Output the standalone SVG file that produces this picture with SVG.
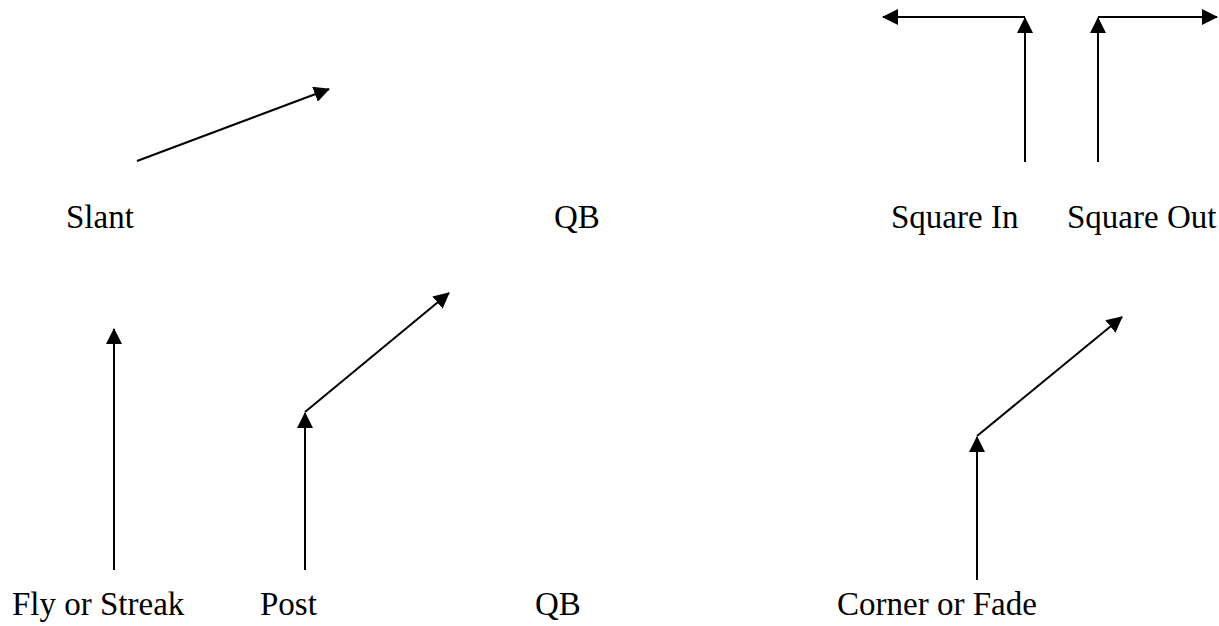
<svg xmlns="http://www.w3.org/2000/svg" width="1219" height="626" viewBox="0 0 1219 626">
<style>
.r{fill:none;stroke:#000;stroke-width:2;marker-end:url(#ah)}
.l{font-family:'Liberation Serif','Times New Roman',serif;font-size:33px;fill:#000}
</style>
<defs>
<marker id="ah" viewBox="0 0 16 16" refX="15" refY="8" markerWidth="16" markerHeight="16" markerUnits="userSpaceOnUse" orient="auto">
<path d="M0,0 L16,8 L0,16 Z" fill="#000"/>
</marker>
</defs>
<rect width="1219" height="626" fill="#fff"/>
<g id="connectors">
<path class="r" d="M137,161 L329,89"/>
<path class="r" d="M1025,162 L1025,18"/>
<path class="r" d="M1025,17 L883,17"/>
<path class="r" d="M1098,162 L1098,18"/>
<path class="r" d="M1098,17 L1217,17"/>
<path class="r" d="M114,570 L114,329"/>
<path class="r" d="M305,570 L305,413"/>
<path class="r" d="M305,412 L449,293"/>
<path class="r" d="M977,580 L977,437"/>
<path class="r" d="M977,436 L1122,317"/>
</g>
<g id="slant"><text class="l" x="66" y="228">Slant</text></g>
<g id="qb-top"><text class="l" x="554" y="228">QB</text></g>
<g id="square-in"><text class="l" x="891" y="228">Square In</text></g>
<g id="square-out"><text class="l" x="1067" y="228">Square Out</text></g>
<g id="fly"><text class="l" x="12" y="615">Fly or Streak</text></g>
<g id="post"><text class="l" x="260" y="615">Post</text></g>
<g id="qb-bottom"><text class="l" x="535" y="615">QB</text></g>
<g id="corner"><text class="l" x="837" y="615">Corner or Fade</text></g>
</svg>
